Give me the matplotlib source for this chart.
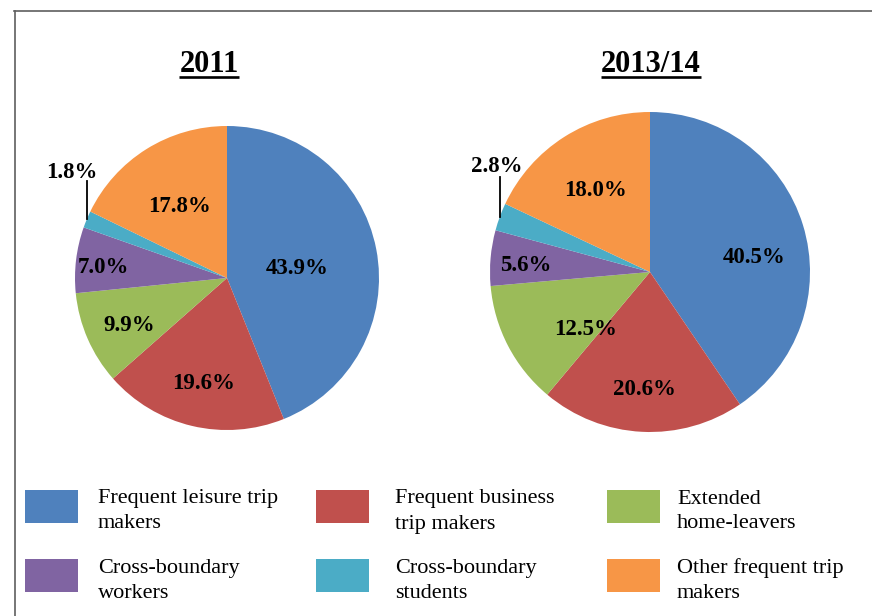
import numpy as np
import matplotlib
matplotlib.use("Agg")
import matplotlib.pyplot as plt
from matplotlib.patches import Rectangle

# ---- data ----
categories = ["Frequent leisure trip\nmakers", "Frequent business\ntrip makers",
              "Extended\nhome-leavers", "Cross-boundary\nworkers",
              "Cross-boundary\nstudents", "Other frequent trip\nmakers"]
titles = ["2011", "2013/14"]
values_2011 = [43.9, 19.6, 9.9, 7.0, 1.8, 17.8]
values_2013 = [40.5, 20.6, 12.5, 5.6, 2.8, 18.0]
colors = ["#4F81BD", "#C0504D", "#9BBB59", "#8064A2", "#4BACC6", "#F79646"]

# ---- layout (pixels) ----
W, H = 872, 616
pie_centers = [(227, 278), (650, 272)]
pie_radii = [152, 160]
label_dist = [[0.47, 0.68, 0.70, 0.82, None, 0.59],
              [0.66, 0.71, 0.52, 0.78, None, 0.64]]
label_nudge = [[0, 0, 0, 0, 0, 0], [-7, 0, 12, 0, 0, 0]]
label_drop_px = 4.5
small_dx = [-0.1, -0.02]
small_idx = 4
serif = ["Liberation Serif", "DejaVu Serif"]

fig = plt.figure(figsize=(W / 100, H / 100), dpi=100)
fig.patch.set_facecolor("white")

overlay = fig.add_axes([0, 0, 1, 1], zorder=5)
overlay.set_xlim(0, W)
overlay.set_ylim(H, 0)
overlay.axis("off")
overlay.patch.set_alpha(0)

for k, vals in enumerate([values_2011, values_2013]):
    cx, cy = pie_centers[k]
    r = pie_radii[k]
    drop = label_drop_px / r
    ax = fig.add_axes([(cx - r) / W, (H - cy - r) / H, 2 * r / W, 2 * r / H])
    wedges, _ = ax.pie(vals, colors=colors, startangle=90, counterclock=False,
                       radius=1, wedgeprops=dict(linewidth=0))
    ax.set_xlim(-1, 1)
    ax.set_ylim(-1, 1)
    ax.axis("off")
    for i, (w, v) in enumerate(zip(wedges, vals)):
        mid = np.deg2rad((w.theta1 + w.theta2) / 2 + label_nudge[k][i])
        txt = f"{v:.1f}%"
        if i == small_idx:
            x0 = np.cos(mid)
            y0 = np.sin(mid)
            ax.plot([x0, x0], [y0, y0 + 0.25], color="black", lw=1.3,
                    clip_on=False)
            ax.text(x0 + small_dx[k], y0 + 0.34 - drop, txt, ha="center",
                    va="center", fontsize=16.5, fontweight="bold", family=serif)
        else:
            d = label_dist[k][i]
            ax.text(d * np.cos(mid), d * np.sin(mid) - drop, txt, ha="center",
                    va="center", fontsize=16.5, fontweight="bold", family=serif)

# titles with underline
title_x = [209, 651]
title_objs = []
for tx, t in zip(title_x, titles):
    title_objs.append(overlay.text(tx, 72, t, ha="center", va="baseline",
                                   fontsize=22, fontweight="bold", family=serif))
fig.canvas.draw()
renderer = fig.canvas.get_renderer()
for t in title_objs:
    bb = t.get_window_extent(renderer)
    overlay.plot([bb.x0, bb.x1], [77, 77], color="black", lw=1.9,
                 solid_capstyle="butt")

# frame (left and top only visible)
overlay.plot([14.5, 14.5], [11, H], color="#5f5f5f", lw=1.2)
overlay.plot([14, W], [11, 11], color="#5f5f5f", lw=1.2)

# legend
box_x = [25, 316, 607]
text_x = [98, 395, 677]
row_box_y = [490, 559]
row_base = [503.5, 572.5]
for i, (lab, col) in enumerate(zip(categories, colors)):
    row, c = divmod(i, 3)
    overlay.add_patch(Rectangle((box_x[c], row_box_y[row]), 53, 33,
                                facecolor=col, edgecolor="none"))
    for j, line in enumerate(lab.split("\n")):
        overlay.text(text_x[c], row_base[row] + 25 * j, line, ha="left",
                     va="baseline", fontsize=16, family=serif)

fig.savefig("out.png", dpi=100)
